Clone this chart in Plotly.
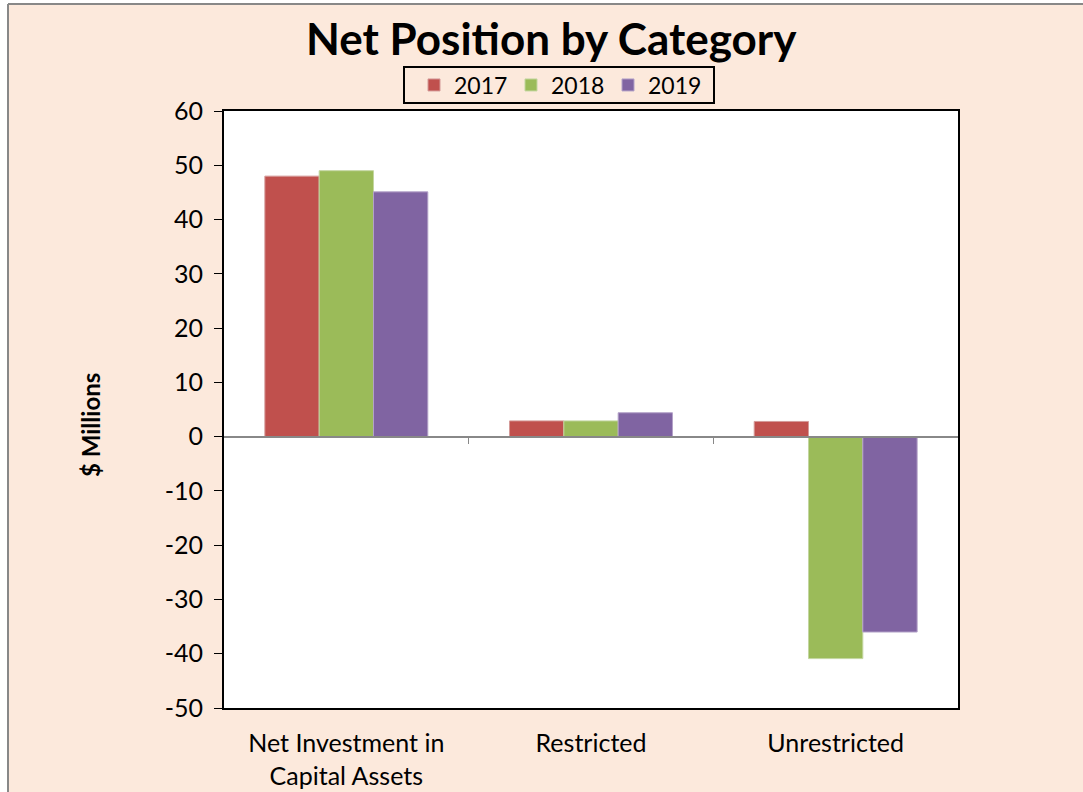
import plotly.graph_objects as go

categories = ["Net Investment in<br>Capital Assets", "Restricted", "Unrestricted"]
years = ["2017", "2018", "2019"]
values_2017 = [48.0, 2.9, 2.8]
values_2018 = [49.0, 2.9, -40.9]
values_2019 = [45.1, 4.4, -36.0]
colors = ["#C0504D", "#9BBB59", "#8064A2"]
line_colors = ["#D49A98", "#C3D6A0", "#B3A2C8"]
y_ticks = [60, 50, 40, 30, 20, 10, 0, -10, -20, -30, -40, -50]
y_tick_text = ["60", "50", "40", "30", "20", "10", "0", "-10", "-20", "-30", "-40", "-50"]
y_range = [-50, 60]

FONT = "Lato"
W, H = 1083, 792
L, R, T, B = 224, 958, 111, 708

def px_x(p):
    return (p - L) / (R - L)

def px_y(p):
    return (B - p) / (B - T)

fig = go.Figure()
for name, vals, c, lc in zip(years, [values_2017, values_2018, values_2019], colors, line_colors):
    fig.add_trace(go.Bar(name=name, x=categories, y=vals, marker=dict(color=c, line=dict(color=lc, width=1))))

# invisible trace for the zero axis
fig.add_trace(go.Scatter(x=[-0.5, 2.5], y=[0, 0], xaxis="x2", mode="lines",
                         line=dict(width=0), showlegend=False, hoverinfo="skip"))

zero_pos = (0 - y_range[0]) / (y_range[1] - y_range[0])

fig.update_layout(
    width=W, height=H,
    margin=dict(l=L, r=W - R, t=T, b=H - B, pad=0, autoexpand=False),
    paper_bgcolor="#FCE9DC",
    plot_bgcolor="white",
    barmode="group",
    bargap=0.334,
    bargroupgap=0,
    font=dict(family=FONT, size=25, color="black"),
    title=dict(text="<b>Net Position by Category</b>", x=0.509, xanchor="center",
               y=1 - 40 / H, yanchor="middle", font=dict(family=FONT, size=44, color="black")),
    legend=dict(orientation="h", x=px_x(414), xanchor="left", y=px_y(85), yanchor="middle",
                borderwidth=0, bgcolor="rgba(0,0,0,0)",
                font=dict(family=FONT, size=23), traceorder="normal",
                itemwidth=30, entrywidthmode="pixels", entrywidth=52),
    xaxis=dict(showline=True, linecolor="black", linewidth=2, mirror=True, automargin=False,
               ticks="", ticklabelstandoff=12,
               showgrid=False, zeroline=False, tickfont=dict(family=FONT, size=25)),
    xaxis2=dict(overlaying="x", anchor="free", position=zero_pos, range=[-0.5, 2.5],
                showline=True, linecolor="#888888", linewidth=2, automargin=False,
                tickvals=[0.5, 1.5], ticks="outside", ticklen=6, tickcolor="#888888", tickwidth=1,
                showticklabels=False, showgrid=False, zeroline=False, side="bottom"),
    yaxis=dict(range=y_range, tickvals=y_ticks, ticktext=y_tick_text, showline=True, linecolor="black",
               linewidth=2, mirror=True, ticks="outside", ticklen=8, tickcolor="black", showgrid=False,
               zeroline=False, automargin=False, ticklabelstandoff=6, tickfont=dict(family=FONT, size=25)),
    annotations=[dict(text="<b>$ Millions</b>", x=px_x(90), y=px_y(425), xref="paper", yref="paper",
                      xanchor="center", yanchor="middle",
                      textangle=-90, showarrow=False, font=dict(family=FONT, size=24, color="black"))],
    shapes=[
        dict(type="rect", xref="paper", yref="paper", x0=-0.5, x1=px_x(8), y0=-0.5, y1=1.5,
             fillcolor="white", line=dict(width=0), layer="below"),
        dict(type="rect", xref="paper", yref="paper", x0=-0.5, x1=1.5, y0=px_y(4), y1=1.5,
             fillcolor="white", line=dict(width=0), layer="below"),
        dict(type="line", xref="paper", yref="paper", x0=px_x(8), x1=px_x(8), y0=-0.5, y1=px_y(4),
             line=dict(color="#888888", width=2)),
        dict(type="line", xref="paper", yref="paper", x0=px_x(8), x1=1.5, y0=px_y(4), y1=px_y(4),
             line=dict(color="#888888", width=2)),
        # legend frame
        dict(type="rect", xref="paper", yref="paper", x0=px_x(404), x1=px_x(714), y0=px_y(103), y1=px_y(67),
             line=dict(color="black", width=2), fillcolor="rgba(0,0,0,0)"),
    ],
)

fig.write_html("out.html", config={"displayModeBar": False},
               post_script="document.body.style.margin='0';")
